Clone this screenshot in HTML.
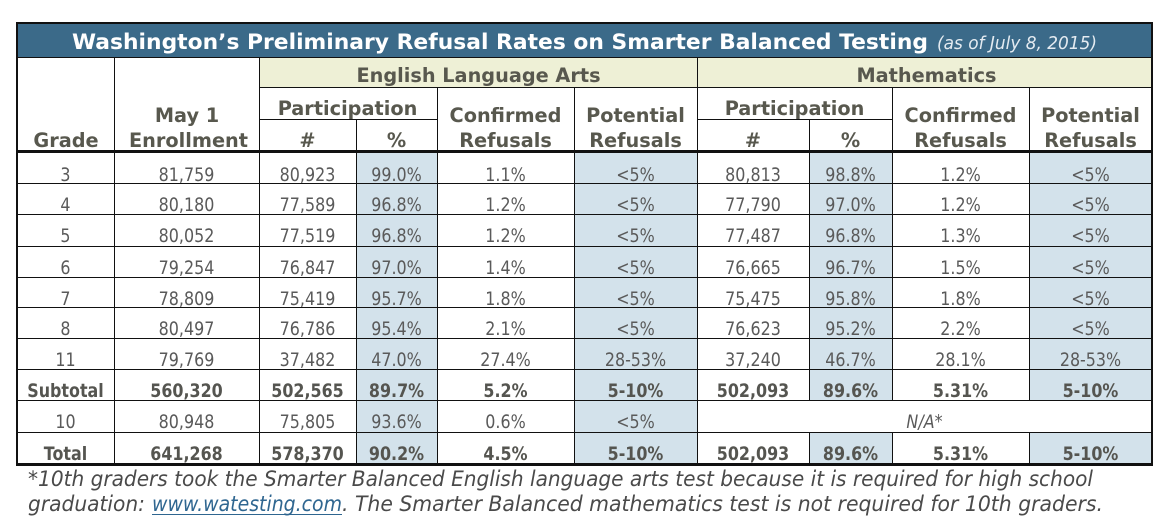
<!DOCTYPE html>
<html><head><meta charset="utf-8">
<style>
html,body{margin:0;padding:0;background:#fff;}
svg{display:block;}
text{font-family:"DejaVu Sans","Liberation Sans",sans-serif;}
</style></head><body>
<svg width="1176" height="526" viewBox="0 0 1176 526" xmlns="http://www.w3.org/2000/svg">
<rect width="1176" height="526" fill="#fff"/>
<!-- title bar -->
<rect x="17" y="23" width="1135" height="34" fill="#3b6a89"/>
<!-- ELA/Math band -->
<rect x="259" y="57" width="893" height="30" fill="#eef0d6"/>
<!-- shading -->
<g fill="#d3e2eb">
<rect x="356" y="153" width="81" height="310"/>
<rect x="574" y="153" width="123" height="310"/>
<rect x="809" y="153" width="83" height="247"/>
<rect x="809" y="432" width="83" height="31"/>
<rect x="1029" y="153" width="123" height="247"/>
<rect x="1029" y="432" width="123" height="31"/>
</g>
<!-- lines -->
<g fill="#111">
<rect x="17" y="22" width="1136" height="2"/>
<rect x="16" y="22" width="2" height="444"/>
<rect x="1151" y="22" width="2" height="444"/>
<rect x="17" y="57" width="1135" height="1"/>
<rect x="259" y="87" width="893" height="1"/>
<rect x="259" y="119" width="178" height="1"/>
<rect x="697" y="119" width="195" height="1"/>
<rect x="17" y="150" width="1135" height="3"/>
<rect x="17" y="183" width="1135" height="1"/>
<rect x="17" y="214" width="1135" height="1"/>
<rect x="17" y="246" width="1135" height="1"/>
<rect x="17" y="277" width="1135" height="1"/>
<rect x="17" y="307" width="1135" height="1"/>
<rect x="17" y="338" width="1135" height="1"/>
<rect x="17" y="369" width="1135" height="1"/>
<rect x="17" y="400" width="1135" height="1"/>
<rect x="17" y="432" width="1135" height="1"/>
<rect x="16" y="463" width="1137" height="3"/>
<rect x="114" y="57" width="1" height="406"/>
<rect x="259" y="57" width="1" height="406"/>
<rect x="356" y="119" width="1" height="344"/>
<rect x="437" y="87" width="1" height="376"/>
<rect x="574" y="87" width="1" height="376"/>
<rect x="697" y="57" width="1" height="406"/>
<rect x="809" y="119" width="1" height="281"/>
<rect x="809" y="432" width="1" height="31"/>
<rect x="892" y="87" width="1" height="313"/>
<rect x="892" y="432" width="1" height="31"/>
<rect x="1029" y="87" width="1" height="313"/>
<rect x="1029" y="432" width="1" height="31"/>
</g>
<!-- title -->
<text x="72" y="49" font-size="21" font-weight="bold" fill="#ffffff" textLength="856" lengthAdjust="spacingAndGlyphs">Washington’s Preliminary Refusal Rates on Smarter Balanced Testing</text>
<text x="937" y="49" font-size="17.5" font-style="italic" fill="#e4ebf1" textLength="160" lengthAdjust="spacingAndGlyphs">(as of July 8, 2015)</text>
<!-- headers -->
<g font-size="19.3" font-weight="bold" fill="#58584e" text-anchor="middle">
<text x="478.5" y="82">English Language Arts</text>
<text x="926.5" y="82">Mathematics</text>
<text x="347.5" y="115">Participation</text>
<text x="794.5" y="115">Participation</text>
<text x="307.5" y="147">#</text>
<text x="396.5" y="147">%</text>
<text x="753" y="147">#</text>
<text x="850.5" y="147">%</text>
<text x="66" y="147">Grade</text>
<text x="187" y="122">May 1</text>
<text x="188.5" y="147">Enrollment</text>
<text x="505.5" y="122">Confirmed</text>
<text x="505.5" y="147">Refusals</text>
<text x="635.5" y="122">Potential</text>
<text x="635.5" y="147">Refusals</text>
<text x="960.5" y="122">Confirmed</text>
<text x="960.5" y="147">Refusals</text>
<text x="1090.5" y="122">Potential</text>
<text x="1090.5" y="147">Refusals</text>
</g>
<!-- data -->
<g transform="scale(0.86,1)" font-size="18.5" fill="#5a5a5a" text-anchor="middle">
<g>
<text x="76.16" y="181">3</text><text x="216.86" y="181">81,759</text><text x="357.56" y="181">80,923</text><text x="461.05" y="181">99.0%</text><text x="587.79" y="181">1.1%</text><text x="738.95" y="181">&lt;5%</text><text x="875.58" y="181">80,813</text><text x="988.95" y="181">98.8%</text><text x="1116.86" y="181">1.2%</text><text x="1268.02" y="181">&lt;5%</text>
</g>
<g>
<text x="76.16" y="211">4</text><text x="216.86" y="211">80,180</text><text x="357.56" y="211">77,589</text><text x="461.05" y="211">96.8%</text><text x="587.79" y="211">1.2%</text><text x="738.95" y="211">&lt;5%</text><text x="875.58" y="211">77,790</text><text x="988.95" y="211">97.0%</text><text x="1116.86" y="211">1.2%</text><text x="1268.02" y="211">&lt;5%</text>
</g>
<g>
<text x="76.16" y="242">5</text><text x="216.86" y="242">80,052</text><text x="357.56" y="242">77,519</text><text x="461.05" y="242">96.8%</text><text x="587.79" y="242">1.2%</text><text x="738.95" y="242">&lt;5%</text><text x="875.58" y="242">77,487</text><text x="988.95" y="242">96.8%</text><text x="1116.86" y="242">1.3%</text><text x="1268.02" y="242">&lt;5%</text>
</g>
<g>
<text x="76.16" y="274">6</text><text x="216.86" y="274">79,254</text><text x="357.56" y="274">76,847</text><text x="461.05" y="274">97.0%</text><text x="587.79" y="274">1.4%</text><text x="738.95" y="274">&lt;5%</text><text x="875.58" y="274">76,665</text><text x="988.95" y="274">96.7%</text><text x="1116.86" y="274">1.5%</text><text x="1268.02" y="274">&lt;5%</text>
</g>
<g>
<text x="76.16" y="305">7</text><text x="216.86" y="305">78,809</text><text x="357.56" y="305">75,419</text><text x="461.05" y="305">95.7%</text><text x="587.79" y="305">1.8%</text><text x="738.95" y="305">&lt;5%</text><text x="875.58" y="305">75,475</text><text x="988.95" y="305">95.8%</text><text x="1116.86" y="305">1.8%</text><text x="1268.02" y="305">&lt;5%</text>
</g>
<g>
<text x="76.16" y="335">8</text><text x="216.86" y="335">80,497</text><text x="357.56" y="335">76,786</text><text x="461.05" y="335">95.4%</text><text x="587.79" y="335">2.1%</text><text x="738.95" y="335">&lt;5%</text><text x="875.58" y="335">76,623</text><text x="988.95" y="335">95.2%</text><text x="1116.86" y="335">2.2%</text><text x="1268.02" y="335">&lt;5%</text>
</g>
<g>
<text x="76.16" y="366">11</text><text x="216.86" y="366">79,769</text><text x="357.56" y="366">37,482</text><text x="461.05" y="366">47.0%</text><text x="587.79" y="366">27.4%</text><text x="738.95" y="366">28-53%</text><text x="875.58" y="366">37,240</text><text x="988.95" y="366">46.7%</text><text x="1116.86" y="366">28.1%</text><text x="1268.02" y="366">28-53%</text>
</g>
<g font-weight="bold" fill="#555550">
<text x="76.16" y="397">Subtotal</text><text x="216.86" y="397">560,320</text><text x="357.56" y="397">502,565</text><text x="461.05" y="397">89.7%</text><text x="587.79" y="397">5.2%</text><text x="738.95" y="397">5-10%</text><text x="875.58" y="397">502,093</text><text x="988.95" y="397">89.6%</text><text x="1116.86" y="397">5.31%</text><text x="1268.02" y="397">5-10%</text>
</g>
<g>
<text x="76.16" y="428">10</text><text x="216.86" y="428">80,948</text><text x="357.56" y="428">75,805</text><text x="461.05" y="428">93.6%</text><text x="587.79" y="428">0.6%</text><text x="738.95" y="428">&lt;5%</text><text x="1075" y="428" font-style="italic">N/A*</text>
</g>
<g font-weight="bold" fill="#555550">
<text x="76.16" y="460">Total</text><text x="216.86" y="460">641,268</text><text x="357.56" y="460">578,370</text><text x="461.05" y="460">90.2%</text><text x="587.79" y="460">4.5%</text><text x="738.95" y="460">5-10%</text><text x="875.58" y="460">502,093</text><text x="988.95" y="460">89.6%</text><text x="1116.86" y="460">5.31%</text><text x="1268.02" y="460">5-10%</text>
</g>
</g>
<!-- footer -->
<g font-size="21.5" font-style="italic" fill="#4a4a4a">
<text x="28" y="486" textLength="1065" lengthAdjust="spacingAndGlyphs">*10th graders took the Smarter Balanced English language arts test because it is required for high school</text>
<text x="28" y="511" textLength="117" lengthAdjust="spacingAndGlyphs">graduation:</text>
<text x="152" y="511" textLength="190" lengthAdjust="spacingAndGlyphs" fill="#2f6690">www.watesting.com</text>
<text x="342" y="511" textLength="761" lengthAdjust="spacingAndGlyphs">. The Smarter Balanced mathematics test is not required for 10th graders.</text>
</g>
<rect x="152" y="514" width="190" height="1" fill="#2f6690"/>
</svg>
</body></html>
